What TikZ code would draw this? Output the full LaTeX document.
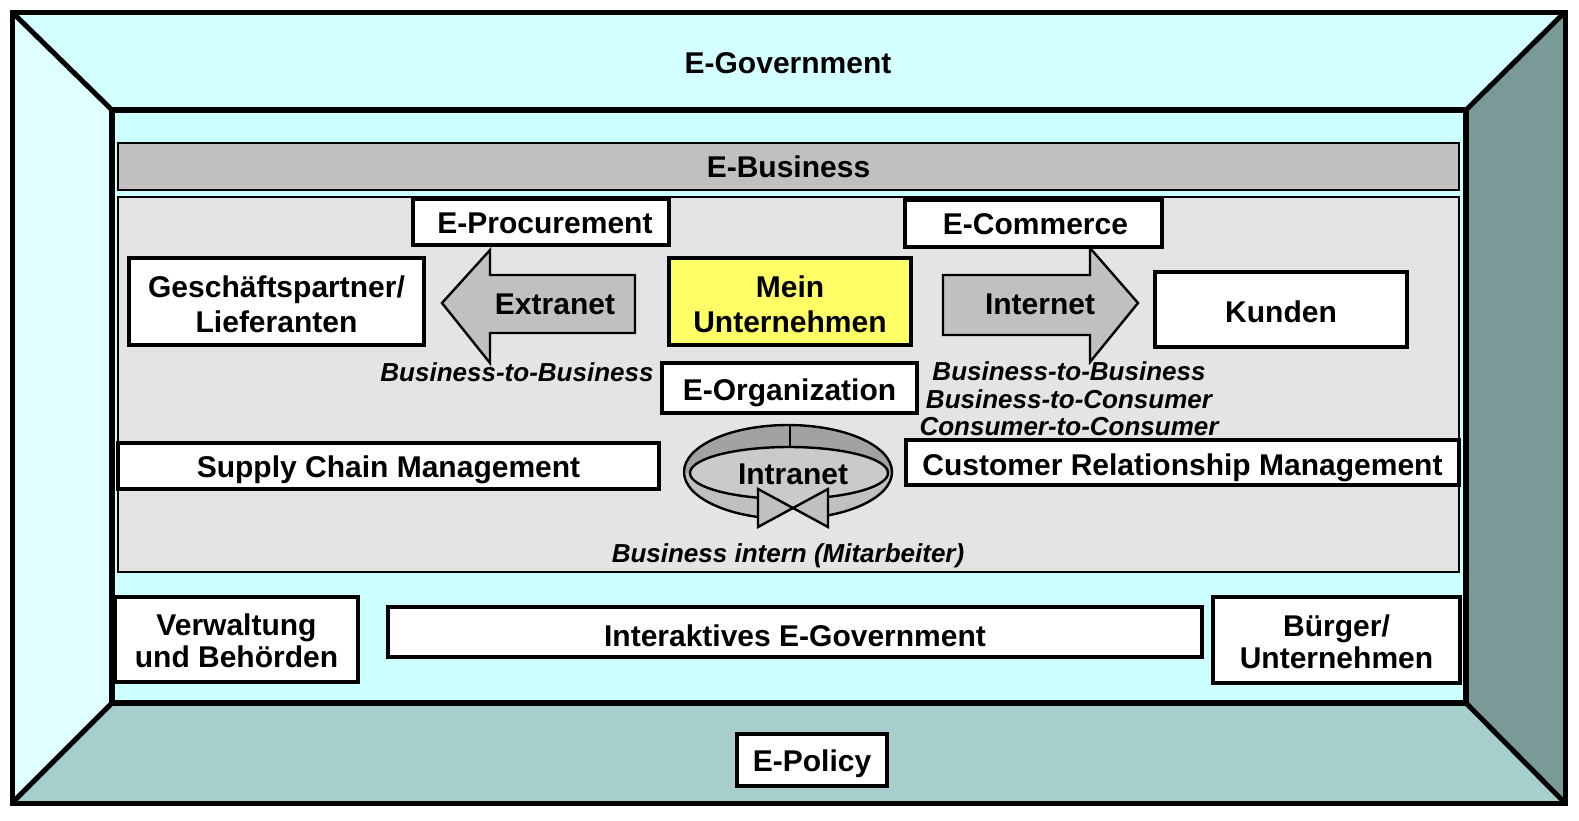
\documentclass[tikz,border=0pt]{standalone}
\usepackage{fontspec}
\setmainfont{Liberation Sans}
\definecolor{topc}{HTML}{D4FFFF}
\definecolor{leftc}{HTML}{E0FFFF}
\definecolor{rightc}{HTML}{7A9A98}
\definecolor{botc}{HTML}{A6CECC}
\definecolor{innerc}{HTML}{CCFFFF}
\definecolor{barc}{HTML}{C0C0C0}
\definecolor{areac}{HTML}{E4E4E4}
\definecolor{arrowc}{HTML}{C0C0C0}
\definecolor{yell}{HTML}{FFFF66}
\definecolor{ringdark}{HTML}{A2A2A2}
\definecolor{ringlight}{HTML}{C0C0C0}
\definecolor{holec}{HTML}{CACACA}
\newcommand{\lowtext}[3]{\raisebox{-#1}[\height][\depth]{\fontsize{15}{#2}\selectfont\begin{tabular}{@{}c@{}}#3\end{tabular}}}
\begin{document}
\begin{tikzpicture}[x=0.5pt,y=-0.5pt,
  box/.style={draw=black, line width=2pt, fill=white, font=\fontsize{15}{17.5}\selectfont\bfseries, align=center, inner sep=0pt},
  one/.style={text height=11pt, text depth=0pt},
  lbl/.style={font=\fontsize{15}{17.5}\selectfont\bfseries, inner sep=0pt, align=center},
  itl/.style={font=\fontsize{13}{13.75}\selectfont\bfseries\itshape, inner sep=0pt, align=center},
  shp/.style={draw=black, line width=1.2pt, fill=arrowc, line join=miter}]
\fill[white] (0,0) rectangle (1579,820);
\useasboundingbox (0,0) rectangle (1579,820);
% frame
\fill[topc] (12,12) -- (1565,12) -- (1466,110) -- (112,110) -- cycle;
\fill[leftc] (12,12) -- (112,110) -- (112,703) -- (12,803) -- cycle;
\fill[rightc] (1565,12) -- (1565,803) -- (1466,703) -- (1466,110) -- cycle;
\fill[botc] (12,803) -- (112,703) -- (1466,703) -- (1565,803) -- cycle;
\draw[line width=2.5pt] (12,12) -- (112,110) (1565,12) -- (1466,110) (12,803) -- (112,703) (1565,803) -- (1466,703);
\draw[line width=2.5pt] (12,12) rectangle (1565,803);
\draw[line width=3pt, fill=innerc] (112,110) rectangle (1466,703);
\node[lbl, one] (egov) at (788,62) {E-Government};
% E-Business
\node[draw=black, line width=1pt, fill=barc, minimum width=670.5pt, minimum height=23.5pt, lbl, one] (ebus) at (788.5,166.5) {E-Business};
\node[draw=black, line width=1pt, fill=areac, minimum width=670.5pt, minimum height=187.5pt, inner sep=0pt] (area) at (788.5,384.5) {};
% arrows
\draw[shp] (442,303) -- (490,250) -- (490,275) -- (635,275) -- (635,333) -- (490,333) -- (490,363) -- cycle;
\draw[shp] (943,275) -- (1090,275) -- (1090,248) -- (1138,303) -- (1090,362) -- (1090,335) -- (943,335) -- cycle;
\node[lbl, one] (extra) at (555,303) {Extranet};
\node[lbl, one] (inter) at (1040,303) {Internet};
% boxes
\node[box, one, minimum width=128pt, minimum height=23pt] (eproc) at (541,222) {\hspace*{4pt}E-Procurement};
\node[box, one, minimum width=128.5pt, minimum height=23.5pt] (ecom) at (1033.5,223) {\hspace*{2pt}E-Commerce};
\node[box, minimum width=147.5pt, minimum height=43.5pt] (gesch) at (276.5,301.5) {\lowtext{3pt}{17.5}{Geschäftspartner/\\Lieferanten}};
\node[box, fill=yell, minimum width=121pt, minimum height=43.5pt] (mein) at (790,301.5) {\lowtext{3pt}{17.5}{Mein\\Unternehmen}};
\node[box, one, minimum width=126pt, minimum height=37.5pt] (kunden) at (1281,309) {\raisebox{-1pt}{Kunden}};
\node[box, text height=12.75pt, text depth=0pt, minimum width=127.5pt, minimum height=25pt] (eorg) at (789.5,388) {E-Organization};
\node[itl] (b2bl) at (517,372) {Business-to-Business};
\node[itl] (b2br) at (1069,399) {Business-to-Business\\Business-to-Consumer\\Consumer-to-Consumer};
\node[box, one, minimum width=270.5pt, minimum height=23pt] (scm) at (388.5,466) {Supply Chain Management};
\node[box, text height=13pt, text depth=0pt, minimum width=276.5pt, minimum height=22.5pt] (crm) at (1182.5,462.5) {Customer Relationship Management};
% intranet ring
\begin{scope}
\clip (600,400) rectangle (1000,472) (600,472) rectangle (758,560) (828,472) rectangle (1000,560);
\fill[ringlight] (788,472) ellipse [x radius=104, y radius=47];
\end{scope}
\begin{scope}
\clip (600,400) rectangle (1000,472);
\fill[ringdark] (788,472) ellipse [x radius=104, y radius=47];
\end{scope}
\begin{scope}
\clip (600,400) rectangle (1000,472) (600,472) rectangle (758,560) (828,472) rectangle (1000,560);
\draw[line width=1.2pt] (788,472) ellipse [x radius=104, y radius=47];
\end{scope}
\draw[line width=1.2pt, fill=holec] (789,473) ellipse [x radius=99, y radius=26];
\fill[holec] (758,489) -- (793,508) -- (828,489) -- cycle;
\draw[line width=1.2pt] (790,425) -- (790,447);
\draw[shp, fill=ringlight] (758,489) -- (793,508) -- (758,527) -- cycle;
\draw[shp, fill=ringlight] (828,489) -- (793,508) -- (828,527) -- cycle;
\node[lbl, one] (intra) at (793,473) {Intranet};
\node[itl] (bint) at (788,556) {Business intern (Mitarbeiter)};
% bottom
\node[box, minimum width=121.5pt, minimum height=42.5pt] (verw) at (236.5,639.5) {\lowtext{3pt}{16}{Verwaltung\\und Behörden}};
\node[box, text height=14.25pt, text depth=0pt, minimum width=407pt, minimum height=25pt] (iegov) at (795,632) {Interaktives E-Government};
\node[box, minimum width=123.5pt, minimum height=43pt] (buerger) at (1336.5,640) {\lowtext{3pt}{16}{Bürger/\\Unternehmen}};
\node[box, one, minimum width=75pt, minimum height=26pt] (epol) at (812,760) {E-Policy};
\end{tikzpicture}
\end{document}
